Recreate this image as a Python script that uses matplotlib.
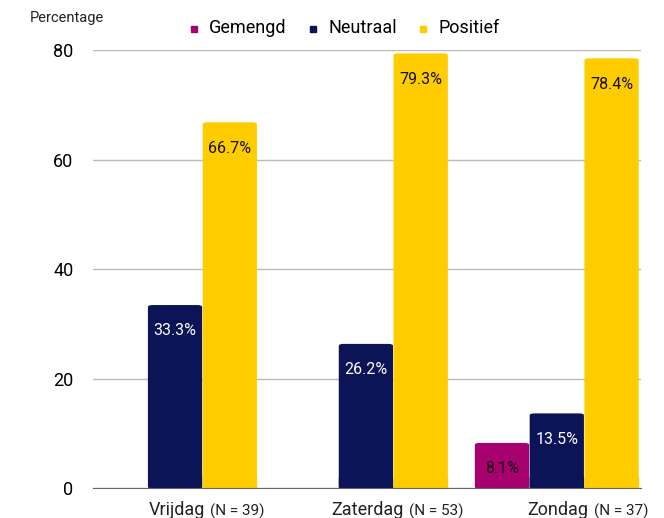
import numpy as np
import matplotlib
matplotlib.use("Agg")
import matplotlib.pyplot as plt
from matplotlib.patches import FancyBboxPatch
from matplotlib.offsetbox import TextArea, HPacker, AnnotationBbox

plt.rcParams["font.family"] = ["Roboto", "DejaVu Sans"]

days = ["Vrijdag", "Zaterdag", "Zondag"]
counts = ["(N = 39)", "(N = 53)", "(N = 37)"]
series = ["Gemengd", "Neutraal", "Positief"]
gemengd = [0, 0, 8.1]
neutraal = [33.3, 26.2, 13.5]
positief = [66.7, 79.3, 78.4]
colors = ["#A7006F", "#0A1456", "#FFCC00"]
label_colors = ["#111111", "white", "#111111"]

fig, ax = plt.subplots(figsize=(6.64, 5.18), dpi=100)
fig.subplots_adjust(left=0.14, right=0.965, top=0.903, bottom=0.058)

x = np.arange(len(days))
width = 0.277
offset = 0.287

for k, (name, vals) in enumerate(zip(series, [gemengd, neutraal, positief])):
    pos = x + (k - 1) * offset
    bars = ax.bar(pos, vals, width, color="none", label=name, zorder=3)
    for b, v in zip(bars, vals):
        if v <= 0:
            continue
        # bars with slightly rounded top corners
        ax.add_patch(FancyBboxPatch((b.get_x(), 0), width, v,
                                    boxstyle="round,pad=0,rounding_size=0.02",
                                    mutation_aspect=12, color=colors[k], zorder=3))
        ax.add_patch(plt.Rectangle((b.get_x(), 0), width, min(v, 2),
                                   color=colors[k], zorder=3))
        ax.text(b.get_x() + width / 2, v - 4.6, f"{v}%", ha="center", va="center",
                fontsize=11.5, color=label_colors[k], zorder=4)

ax.set_xlim(-0.43, 2.44)
ax.set_ylim(0, 80)
ax.set_yticks([0, 20, 40, 60, 80])
ax.tick_params(axis="y", labelsize=13, length=0, pad=14)
ax.tick_params(axis="x", length=0, labelbottom=False)
ax.grid(axis="y", color="#BBBBBB", linewidth=1, zorder=0)
for s in ["top", "right", "left"]:
    ax.spines[s].set_visible(False)
ax.spines["bottom"].set_color("#666666")
ax.spines["bottom"].set_zorder(5)

for i, (d, n) in enumerate(zip(days, counts)):
    box = HPacker(children=[TextArea(d, textprops=dict(fontsize=13, color="#222222")),
                            TextArea(n, textprops=dict(fontsize=11, color="#222222"))],
                  align="baseline", pad=0, sep=4)
    ab = AnnotationBbox(box, (i + 0.165, 0), xybox=(0, -16), xycoords="data",
                        boxcoords="offset points", frameon=False, box_alignment=(0.5, 0.5))
    ax.add_artist(ab)

fig.text(0.045, 0.965, "Percentage", fontsize=10.5, color="#222222", va="center")

leg = fig.legend(loc="center", bbox_to_anchor=(0.52, 0.946), ncol=3, frameon=False,
                 fontsize=13, handlelength=0.5, handleheight=0.5, handletextpad=0.5,
                 columnspacing=1.3)
for h, c in zip(leg.legend_handles, colors):
    h.set_facecolor(c)
    h.set_edgecolor(c)
    h.set_visible(True)
    h.set_height(4)
    h.set_width(4)

plt.savefig("out.png", dpi=100)
